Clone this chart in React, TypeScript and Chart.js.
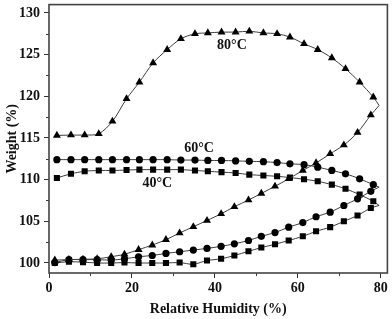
import React, { useEffect, useRef } from "react";
import { Chart, registerables } from "chart.js";

Chart.register(...registerables);

// Relative humidity (%) of the measured points
const rhAdsorption = [1.4, 4.8, 8.2, 11.6, 15.0, 18.2, 21.6, 24.9, 28.2, 31.5, 34.8, 38.1, 41.5, 44.7, 48.1, 51.2, 54.5, 57.8, 61.2, 64.4, 67.8, 71.1, 74.4, 77.6];
const rhDesorption = [1.9, 5.3, 8.6, 12.0, 15.3, 18.7, 21.8, 25.1, 28.5, 31.8, 35.2, 38.3, 41.6, 45.0, 48.3, 51.7, 55.0, 58.1, 61.5, 64.8, 68.2, 71.5, 74.9, 78.2];
const rhTurn = 79.6;

// Weight (%) — 80 °C
const w80Ads = [100.35, 100.4, 100.45, 100.5, 100.75, 101.05, 101.6, 102.15, 102.8, 103.6, 104.35, 105.1, 105.9, 106.75, 107.55, 108.35, 109.2, 110.1, 111.1, 112.0, 113.1, 114.15, 115.65, 117.75];
const w80Des = [115.3, 115.35, 115.35, 115.5, 117.0, 119.7, 121.7, 124.0, 125.6, 126.9, 127.5, 127.6, 127.7, 127.7, 127.8, 127.6, 127.5, 127.1, 126.3, 125.6, 124.6, 123.3, 121.7, 119.9];
const w80Turn = 118.9;

// Weight (%) — 60 °C
const w60Ads = [100.05, 100.4, 100.4, 100.4, 100.35, 100.5, 100.75, 100.9, 101.15, 101.35, 101.55, 101.75, 102.0, 102.3, 102.7, 103.2, 103.65, 104.3, 104.85, 105.55, 106.1, 106.9, 107.7, 108.6];
const w60Des = [112.4, 112.4, 112.4, 112.4, 112.4, 112.4, 112.4, 112.4, 112.4, 112.35, 112.35, 112.3, 112.3, 112.25, 112.2, 112.15, 112.05, 111.9, 111.8, 111.5, 111.1, 110.7, 110.1, 109.4];
const w60Turn = 109.1;

// Weight (%) — 40 °C
const w40Ads = [100.0, 100.15, 100.1, 100.0, 100.0, 100.05, 100.0, 100.0, 100.0, 100.05, 99.85, 100.3, 100.5, 100.9, 101.4, 101.85, 102.25, 102.7, 103.2, 103.8, 104.3, 105.0, 105.7, 106.6];
const w40Des = [110.2, 110.7, 111.0, 111.1, 111.1, 111.15, 111.2, 111.2, 111.2, 111.2, 111.1, 111.0, 110.9, 110.8, 110.6, 110.5, 110.4, 110.25, 110.05, 109.8, 109.4, 108.9, 108.2, 107.4];
const w40Turn = 106.9;

// Axis ticks
const xTicks = [0, 20, 40, 60, 80];
const xMinorTicks = [10, 30, 50, 70];
const yTicks = [100, 105, 110, 115, 120, 125, 130];
const yMinorTicks = [102.5, 107.5, 112.5, 117.5, 122.5, 127.5];

// Curve labels (data coordinates)
const curveLabels = ["80°C", "60°C", "40°C"];
const curveLabelRH = [44.1, 36.2, 26.1];
const curveLabelW = [126.1, 113.7, 109.6];

const FONT = "'Liberation Serif', 'Times New Roman', serif";

function makeSeries(rh: number[], w: number[], turnW: number) {
  return [...rh.map((x, i) => ({ x, y: w[i] })), { x: rhTurn, y: turnW }];
}

function ds(data: any[], style: string, radius: number) {
  const n = data.length;
  return {
    data,
    showLine: true,
    borderColor: "#3c3c3c",
    borderWidth: 1,
    tension: 0.3,
    pointStyle: style,
    pointRadius: (c: any) => (c.dataIndex === n - 1 ? 0 : radius),
    pointBackgroundColor: "#000",
    pointBorderColor: "#000",
    pointBorderWidth: 0,
    pointHoverRadius: radius,
  };
}

const framePlugin = {
  id: "frame",
  afterDraw(chart: any) {
    const ctx = chart.ctx;
    const { left, right, top, bottom } = chart.chartArea;
    const xs = chart.scales.x;
    const ys = chart.scales.y;
    ctx.save();
    ctx.strokeStyle = "#3a3a3a";
    ctx.lineWidth = 1;
    ctx.beginPath();
    for (const v of yMinorTicks) {
      const p = Math.round(ys.getPixelForValue(v)) + 0.5;
      ctx.moveTo(left - 3, p);
      ctx.lineTo(left, p);
    }
    for (const v of xMinorTicks) {
      const p = Math.round(xs.getPixelForValue(v)) + 0.5;
      ctx.moveTo(p, bottom);
      ctx.lineTo(p, bottom + 3);
    }
    ctx.stroke();
    ctx.lineWidth = 1.6;
    ctx.strokeStyle = "#444";
    ctx.strokeRect(left, top, right - left, bottom - top);
    ctx.fillStyle = "#111";
    ctx.font = `bold 14px ${FONT}`;
    ctx.textAlign = "center";
    ctx.textBaseline = "middle";
    curveLabels.forEach((t, i) => {
      ctx.fillText(t, xs.getPixelForValue(curveLabelRH[i]), ys.getPixelForValue(curveLabelW[i]));
    });
    ctx.restore();
  },
};

export default function App() {
  const ref = useRef<HTMLCanvasElement | null>(null);
  useEffect(() => {
    document.body.style.margin = "0";
    const canvas = ref.current!;
    const chart = new Chart(canvas, {
      type: "scatter",
      data: {
        datasets: [
          ds(makeSeries(rhAdsorption, w80Ads, w80Turn), "triangle", 4.6),
          ds(makeSeries(rhDesorption, w80Des, w80Turn), "triangle", 4.6),
          ds(makeSeries(rhAdsorption, w60Ads, w60Turn), "circle", 3.6),
          ds(makeSeries(rhDesorption, w60Des, w60Turn), "circle", 3.6),
          ds(makeSeries(rhAdsorption, w40Ads, w40Turn), "rect", 4.3),
          ds(makeSeries(rhDesorption, w40Des, w40Turn), "rect", 4.3),
        ] as any,
      },
      options: {
        animation: false,
        responsive: false,
        layout: { padding: { top: 2, right: 2, left: 0, bottom: 0 } },
        plugins: { legend: { display: false }, tooltip: { enabled: false } },
        scales: {
          x: {
            type: "linear",
            min: 0,
            max: 81.6,
            afterBuildTicks: (s: any) => {
              s.ticks = xTicks.map((v) => ({ value: v }));
            },
            afterFit: (s: any) => {
              s.height = 46;
              s.paddingLeft = 0;
              s.paddingRight = 0;
            },
            border: { display: false },
            grid: { drawOnChartArea: false, drawTicks: true, tickLength: 5, tickColor: "#333", tickWidth: 1 },
            ticks: { color: "#111", padding: 2, maxRotation: 0, font: { family: FONT, size: 14, weight: "bold" } },
            title: {
              display: true,
              text: "Relative Humidity (%)",
              color: "#111",
              padding: { top: 0, bottom: 1 },
              font: { family: FONT, size: 14, weight: "bold" },
            },
          },
          y: {
            type: "linear",
            min: 98.8,
            max: 131,
            afterBuildTicks: (s: any) => {
              s.ticks = yTicks.map((v) => ({ value: v }));
            },
            afterFit: (s: any) => {
              s.width = 49;
              s.paddingTop = 0;
              s.paddingBottom = 0;
            },
            border: { display: false },
            grid: { drawOnChartArea: false, drawTicks: true, tickLength: 5, tickColor: "#333", tickWidth: 1 },
            ticks: { color: "#111", padding: 4, font: { family: FONT, size: 14, weight: "bold" } },
            title: {
              display: true,
              text: "Weight (%)",
              color: "#111",
              padding: { top: 4, bottom: 0 },
              font: { family: FONT, size: 14, weight: "bold" },
            },
          },
        },
      },
      plugins: [framePlugin],
    } as any);
    return () => chart.destroy();
  }, []);
  return (
    <div style={{ position: "absolute", left: 0, top: 0, width: 392, height: 319, background: "#fff" }}>
      <canvas ref={ref} width={392} height={319} style={{ display: "block", width: 392, height: 319 }} />
    </div>
  );
}
